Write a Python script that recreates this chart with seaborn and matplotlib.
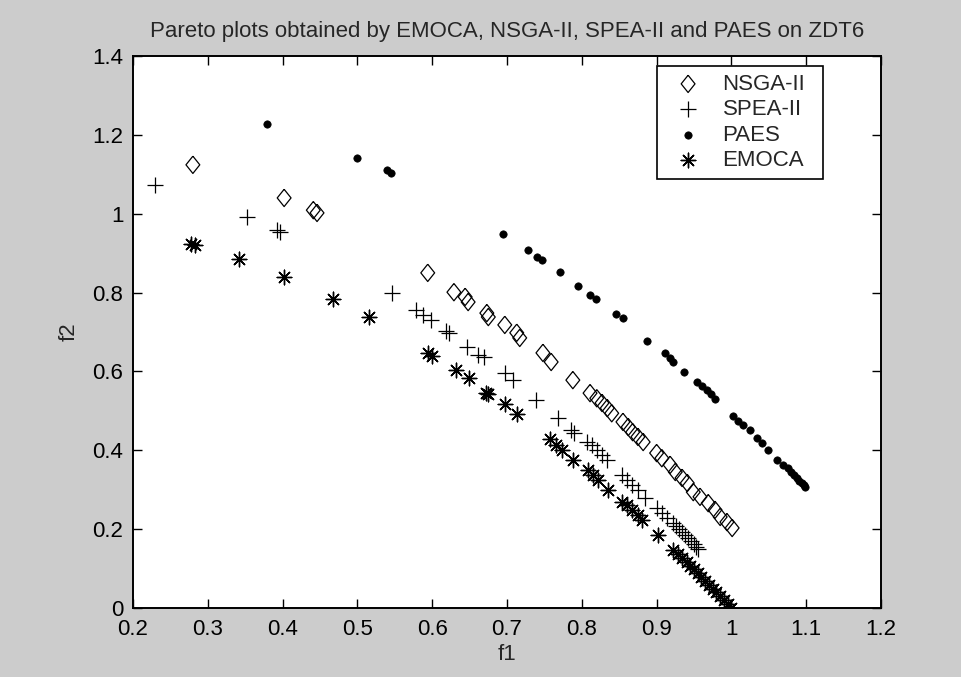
import matplotlib
matplotlib.use('Agg')
import matplotlib.pyplot as plt
import seaborn as sns
from matplotlib.ticker import FuncFormatter, MultipleLocator

# valeurs (f1, f2)
nsga_f1 = [0.280, 0.402, 0.441, 0.446, 0.594, 0.629, 0.644, 0.648, 0.673, 0.675,
           0.697, 0.713, 0.717, 0.748, 0.759, 0.788, 0.811, 0.820, 0.827, 0.834,
           0.840, 0.855, 0.862, 0.868, 0.875, 0.882, 0.900, 0.907, 0.918, 0.925,
           0.934, 0.941, 0.949, 0.958, 0.969, 0.978, 0.985, 0.994, 1.001]
nsga_f2 = [1.124, 1.040, 1.009, 1.002, 0.850, 0.801, 0.789, 0.776, 0.748, 0.738,
           0.718, 0.698, 0.685, 0.647, 0.624, 0.578, 0.545, 0.532, 0.520, 0.507,
           0.494, 0.472, 0.459, 0.446, 0.434, 0.421, 0.393, 0.380, 0.363, 0.345,
           0.330, 0.317, 0.294, 0.282, 0.266, 0.249, 0.231, 0.218, 0.203]

spea_f1 = [0.229, 0.352, 0.392, 0.397, 0.546, 0.578, 0.588, 0.598, 0.618, 0.623,
           0.646, 0.661, 0.669, 0.697, 0.708, 0.739, 0.768, 0.785, 0.789, 0.807,
           0.814, 0.820, 0.827, 0.834, 0.854, 0.860, 0.867, 0.875, 0.884, 0.900,
           0.907, 0.914, 0.922, 0.926, 0.930, 0.934, 0.938, 0.942, 0.946, 0.950,
           0.953, 0.955]
spea_f2 = [1.073, 0.992, 0.959, 0.954, 0.799, 0.756, 0.743, 0.730, 0.703, 0.697,
           0.662, 0.642, 0.637, 0.596, 0.578, 0.527, 0.482, 0.452, 0.444, 0.421,
           0.413, 0.401, 0.388, 0.375, 0.337, 0.325, 0.312, 0.299, 0.279, 0.254,
           0.241, 0.228, 0.215, 0.208, 0.200, 0.193, 0.185, 0.178, 0.170, 0.162,
           0.155, 0.150]

paes_f1 = [0.379, 0.499, 0.540, 0.545, 0.695, 0.728, 0.740, 0.747, 0.771, 0.795,
           0.811, 0.819, 0.846, 0.855, 0.887, 0.911, 0.918, 0.922, 0.937, 0.954,
           0.961, 0.967, 0.973, 0.978, 1.002, 1.009, 1.016, 1.025, 1.034, 1.041,
           1.049, 1.061, 1.069, 1.075, 1.080, 1.084, 1.088, 1.091, 1.094, 1.097,
           1.099]
paes_f2 = [1.228, 1.141, 1.111, 1.103, 0.948, 0.908, 0.890, 0.883, 0.852, 0.817,
           0.794, 0.784, 0.746, 0.735, 0.677, 0.646, 0.634, 0.624, 0.599, 0.573,
           0.563, 0.553, 0.543, 0.530, 0.487, 0.474, 0.464, 0.451, 0.431, 0.418,
           0.401, 0.375, 0.363, 0.355, 0.345, 0.337, 0.330, 0.323, 0.317, 0.311,
           0.306]

emoca_f1 = [0.278, 0.283, 0.342, 0.402, 0.467, 0.516, 0.594, 0.600, 0.632, 0.649,
            0.672, 0.675, 0.697, 0.713, 0.757, 0.766, 0.774, 0.788, 0.808, 0.815,
            0.822, 0.835, 0.854, 0.860, 0.867, 0.875, 0.880, 0.902, 0.922, 0.929,
            0.934, 0.940, 0.945, 0.950, 0.955, 0.960, 0.965, 0.970, 0.975, 0.980,
            0.985, 0.990, 0.995, 1.000]
emoca_f2 = [0.923, 0.920, 0.885, 0.840, 0.784, 0.738, 0.647, 0.639, 0.604, 0.583,
            0.545, 0.543, 0.517, 0.492, 0.428, 0.414, 0.401, 0.375, 0.350, 0.337,
            0.325, 0.299, 0.269, 0.261, 0.249, 0.236, 0.223, 0.185, 0.147, 0.137,
            0.128, 0.116, 0.107, 0.098, 0.088, 0.078, 0.069, 0.059, 0.049, 0.040,
            0.030, 0.020, 0.010, 0.000]

sns.set_style('ticks')
plt.rcParams['font.family'] = ['Liberation Sans', 'DejaVu Sans']
plt.rcParams['font.size'] = 16

fig = plt.figure(figsize=(9.62, 6.77), dpi=100, facecolor='#cccccc')
ax = fig.add_axes([0.1383, 0.1019, 0.7775, 0.8154])
ax.set_facecolor('white')

diamond = [(0, 1), (0.8, 0), (0, -1), (-0.8, 0), (0, 1)]

sns.scatterplot(x=nsga_f1, y=nsga_f2, marker=diamond, s=155, facecolor='none',
                edgecolor='black', linewidth=0.9, label='NSGA-II', ax=ax)
sns.scatterplot(x=spea_f1, y=spea_f2, marker='+', s=135, color='black',
                linewidth=0.9, label='SPEA-II', ax=ax)
sns.scatterplot(x=paes_f1, y=paes_f2, marker='o', s=28, color='black',
                edgecolor='black', linewidth=0.5, label='PAES', ax=ax)
sns.scatterplot(x=emoca_f1, y=emoca_f2, marker=(8, 2, 0), s=110, color='black',
                linewidth=1.0, label='EMOCA', ax=ax)

ax.set_xlim(0.2, 1.2)
ax.set_ylim(0, 1.4)
ax.xaxis.set_major_locator(MultipleLocator(0.1))
ax.yaxis.set_major_locator(MultipleLocator(0.2))
fmt = FuncFormatter(lambda v, p: f'{round(v, 2):g}')
ax.xaxis.set_major_formatter(fmt)
ax.yaxis.set_major_formatter(fmt)

for sp in ax.spines.values():
    sp.set_visible(True)
    sp.set_color('black')
    sp.set_linewidth(1.4)
ax.tick_params(direction='in', length=6.5, width=1, top=True, right=True,
               colors='black', labelsize=16)
ax.tick_params(axis='x', pad=8)
ax.tick_params(axis='y', pad=7)
for lab in ax.get_yticklabels():
    lab.set_verticalalignment('center_baseline')

ax.set_title('Pareto plots obtained by EMOCA, NSGA-II, SPEA-II and PAES on ZDT6',
             fontsize=16, pad=14)
ax.set_xlabel('f1', fontsize=16, labelpad=3)
ax.set_ylabel('f2', fontsize=16, labelpad=9)

# cadre de la légende calé sur la boîte de la figure d'origine
leg = ax.legend(loc='upper left', bbox_to_anchor=(0.7005, 0.982, 0.2215, 0.0),
                mode='expand', fontsize=16, frameon=True, fancybox=False,
                framealpha=1, edgecolor='black', borderpad=0.35,
                labelspacing=0.2, handlelength=2.1, handletextpad=0.5,
                borderaxespad=0)
leg.get_frame().set_linewidth(1.2)

fig.savefig('out.png', dpi=100, facecolor=fig.get_facecolor())
